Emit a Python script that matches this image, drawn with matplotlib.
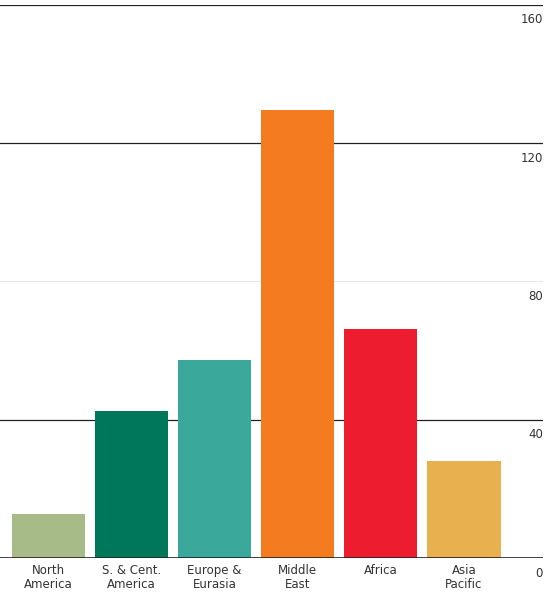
import matplotlib
matplotlib.use("Agg")
import matplotlib.pyplot as plt

categories = ["North\nAmerica", "S. & Cent.\nAmerica", "Europe &\nEurasia", "Middle\nEast", "Africa", "Asia\nPacific"]
values = [12.7, 42.5, 57.3, 129.6, 66.3, 28.1]
colors = ["#a7bb88", "#00765a", "#3aa89a", "#f47b20", "#ed1c2e", "#e9b050"]
ticks = [0, 40, 80, 120, 160]

fig = plt.figure(figsize=(5.54, 6.0), dpi=100)
ax = fig.add_axes([0.0, 0.07, 0.98, 0.922])
ax.set_xlim(-0.58, 5.95)
ax.set_ylim(0, 160)
for t in ticks[1:]:
    ax.axhline(t, color="#dddddd" if t == 80 else "#222222", lw=0.5 if t == 80 else 0.9, zorder=0)
    ax.text(1.0, t - 2.5, str(t), transform=ax.get_yaxis_transform(), ha="right", va="top",
            fontsize=8.5, color="#333333")
ax.text(1.0, -2.5, "0", transform=ax.get_yaxis_transform(), ha="right", va="top", fontsize=8.5, color="#333333")
ax.bar(range(len(values)), values, width=0.88, color=colors, zorder=2)
ax.axhline(0, color="#222222", lw=1.2, zorder=3)
for s in ax.spines.values():
    s.set_visible(False)
ax.set_yticks([])
ax.set_xticks(range(len(categories)))
ax.set_xticklabels(categories, fontsize=8.5, color="#333333", linespacing=1.1)
ax.tick_params(axis="x", length=0, pad=4)
fig.savefig("out.png", dpi=100)
